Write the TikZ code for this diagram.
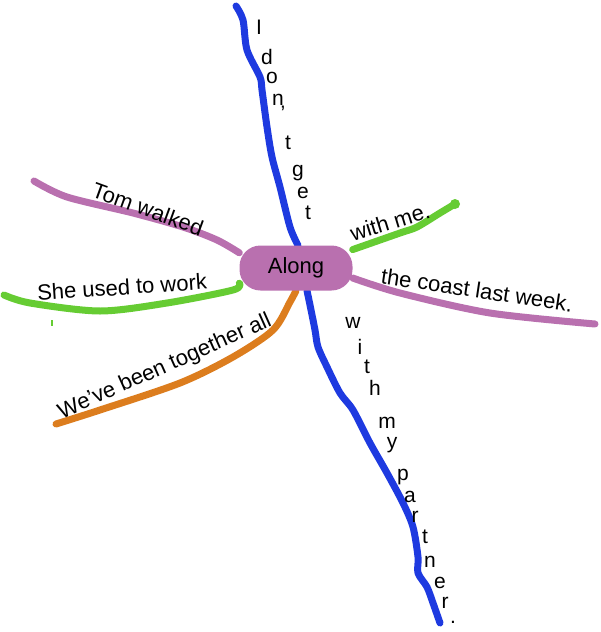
\documentclass[tikz,border=0pt]{standalone}
\usepackage{fontspec}
\setmainfont{Liberation Sans}
\usetikzlibrary{backgrounds}

\definecolor{mapblue}{RGB}{30,58,224}
\definecolor{mappurple}{RGB}{185,112,175}
\definecolor{mapgreen}{RGB}{102,204,51}
\definecolor{maporange}{RGB}{220,125,30}

\begin{document}
\begin{tikzpicture}[x=1pt,y=-1pt,
                    branch/.style={line width=7pt,line cap=round,line join=round},
                    hub/.style={rounded corners=21pt,fill=mappurple,
                                minimum width=113pt,minimum height=45pt,
                                font=\fontsize{22}{26}\selectfont},
                    phrase/.style={font=\fontsize{22}{26}\selectfont,inner sep=0pt},
                    letter/.style={font=\fontsize{21}{25}\selectfont,inner sep=0pt}]
    \useasboundingbox (0,0) rectangle (600,632);

    \node[hub] (along) at (296,268) {Along};

    % branches, behind the hub
    \begin{scope}[on background layer]
    \draw[branch,mapblue] plot[smooth,tension=0.5] coordinates {
        (236,6) (243,20) (247,50) (260,77) (262,90) (267,127) (272,157)
        (280,187) (290,227) ([xshift=2pt]along.north)};
    \draw[branch,mapblue] plot[smooth,tension=0.5] coordinates {
        ([xshift=11pt]along.south) (310,305) (315,330) (318,347) (327,367)
        (340,393) (353,410) (370,443) (387,473) (403,503) (413,527)
        (418,557) (418,573) (427,587) (433,603) (440,623)};
    \draw[branch,mappurple] plot[smooth,tension=0.5] coordinates {
        (34,181) (67,197) (133,213) (183,227) (217,240) (along.165)};
    \draw[branch,mapgreen] plot[smooth,tension=0.5] coordinates {
        (4,295) (30,303) (100,311) (167,303) (233,290) (along.195)};
    \draw[branch,maporange] plot[smooth,tension=0.5] coordinates {
        (56,424) (100,410) (180,383) (233,357) (273,330) (290,302) (along.south)};
    \draw[branch,mapgreen] plot[smooth,tension=0.5] coordinates {
        (along.18) (400,233) (417,227) (440,213) (455,204)};
    \draw[branch,mappurple] plot[smooth,tension=0.5] coordinates {
        (along.-10) (400,293) (490,313) (595,324)};
    \end{scope}
    \fill[mapgreen] (455,204) circle (5pt);
    \draw[mapgreen,line width=2pt] (52,320) -- (52,326);

    % phrases along the branches
    \node[phrase,rotate=-20]  (tom)     at (148,209) {Tom walked};
    \node[phrase,rotate=4]    (work)    at (122,287) {She used to work};
    \node[phrase,rotate=24]   (all)     at (165,367) {We’ve been together all};
    \node[phrase,rotate=17]   (withme)  at (390,222) {with me.};
    \node[phrase,rotate=-8.5] (coast)   at (477,290) {the coast last week.};

    % letters stacked along the blue line
    \foreach \ch/\px/\py [count=\i] in {I/259/27, d/267/57, o/272/78, n/278/100,
            ’/283/113, t/288/143, g/298/173, e/303/193, t/308/213}
        \node[letter] (get\i) at (\px,\py) {\ch};
    \foreach \ch/\px/\py [count=\i] in {w/353/323, i/360/347, t/367/367, h/375/388,
            m/387/423, y/392/445, p/403/477, a/410/497, r/415/517, t/425/537,
            n/430/562, e/440/583, r/445/603, ./453/622}
        \node[letter] (partner\i) at (\px,\py) {\ch};
\end{tikzpicture}
\end{document}
